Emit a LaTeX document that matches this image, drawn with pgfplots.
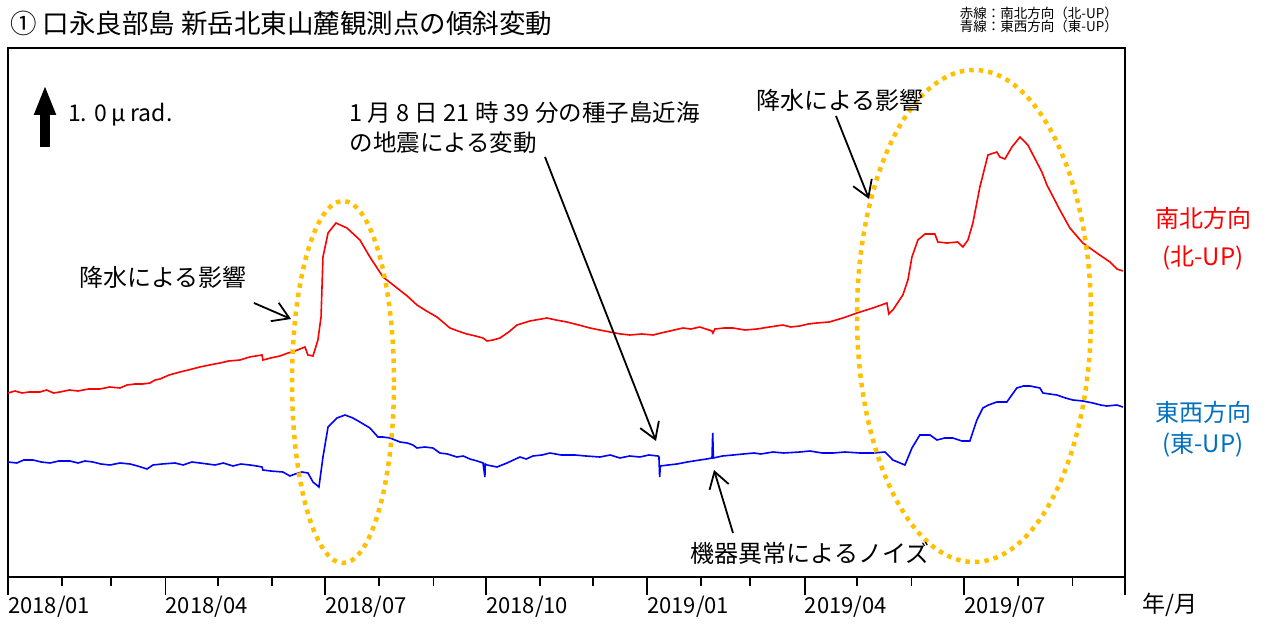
\documentclass[border=0pt]{standalone}
\usepackage{fontspec}
\setmainfont{Noto Sans CJK JP}
\usepackage{pgfplots}
\pgfplotsset{compat=1.18}
\usetikzlibrary{arrows.meta}
\definecolor{nsred}{RGB}{255,0,0}
\definecolor{ewblue}{RGB}{0,0,255}
\definecolor{lblblue}{RGB}{0,112,192}
\definecolor{rainorange}{RGB}{255,192,0}

\begin{document}
\begin{tikzpicture}[x=1pt,y=1pt]
\begin{axis}[
  at={(0,0)}, anchor=south west,
  scale only axis, width=1117pt, height=529pt,
  xmin=0, xmax=638, ymin=0, ymax=529,
  axis line style={line width=2.6pt},
  ytick=\empty,
  xtick={0,90,181,273,365,455,546,638},
  xticklabels={2018/01,2018/04,2018/07,2018/10,2019/01,2019/04,2019/07,},
  minor xtick={31,59,120,151,212,243,304,334,396,424,485,516,577,608},
  xtick pos=bottom, tick align=outside,
  major tick length=18pt, minor tick length=9pt,
  tick style={black, line width=1.8pt},
  xticklabel style={anchor=north west, inner sep=0pt, yshift=-1pt,
    font=\fontsize{22}{24}\selectfont},
]
% 南北方向 (north up), days since 2018-01-01
\addplot[nsred, line width=1.6pt] coordinates {
(0,184)(4,186)(8,184)(12,185)(18.3,185)(22,187)(26,184)(29.7,185)(35,187)(40,186)
(46,188)(52.5,188)(58,190)(64,189)(68,192)(72.5,193)(77,193)(81.1,194)(84,197)(86.8,198)
(92,202)(98.2,205)(103,207)(109.6,210)(115,212)(121.1,214)(126,216)(132.5,217)(138,220)
(145.1,222)(145.6,217)(150,219)(155.3,221)(160,224)(163.9,226)(169.6,230)(171.3,222)
(174.2,221)(177,237)(178.8,260)(179.9,320)(182.8,344)(187.3,354)(193.6,349)(201,337)
(206.7,320)(214.2,300)(222.2,289)(228,281)(233.6,272)(239,266)(245,260)(252.4,249)
(257,246)(262.1,243)(267,241)(271.3,239)(273.6,236)(277,237)(281,239)(286,245)(290.7,252)
(298.1,256)(307.8,259)(313,257)(319.2,255)(326,252)(332.4,249)(338,247)(343.8,245)
(350,243)(355.2,242)(362,243)(368.4,242)(373,244)(378.1,246)(385.5,249)(390,248)
(395.2,250)(402.1,246)(402.6,244)(403.8,248)(409,249)(414.1,249)(421,247)(427.8,248)
(435,250)(442.6,252)(447,250)(452.3,251)(457,253)(462,254)(469,255)(476.9,259)
(484.9,264)(494,269)(502,274)(503.1,263)(505.4,267)(511.1,282)(514,297)(516.3,320)
(519.7,337)(523.7,343)(529.4,343)(531.1,335)(536.3,334)(542.5,335)(545.4,330)(548.3,337)
(551.1,354)(555.1,390)(559.7,422)(564.8,425)(566.5,420)(569.4,418)(573.4,430)(578,440)
(582.5,432)(590.5,405)(593.4,392)(600.8,367)(606.5,349)(613.9,334)(621.9,324)(629.4,315)
(633.4,308)(636.8,306)
};
% 東西方向 (east up)
\addplot[ewblue, line width=1.6pt] coordinates {
(0,115)(5,114)(9,117)(14.3,117)(19,115)(24,114)(29,116)(35.4,116)(40,114)(44,116)
(48.5,115)(53,113)(58.3,112)(64,114)(69.7,113)(74,111)(79.4,108)(82.8,112)(88,113)
(95.4,114)(100,112)(105,115)(109.6,114)(114,113)(118.2,112)(123,114)(128.5,111)(133,113)
(138.2,112)(142,111)(145.1,110)(145.6,107)(150,106)(157,105)(161,101)(164,103)(167.9,105)
(171.3,104)(174.2,95)(177.6,90)(179.9,120)(182.8,150)(187.9,159)(192.5,162)(197,159)
(201,155)(206.7,149)(211.3,140)(214,140)(218.2,139)(223.9,135)(228,134)(231.3,132)
(233.6,129)(238,130)(242.7,129)(246.7,124)(251,123)(256.4,120)(260,121)(263.8,118)
(268,116)(271.3,114)(272.4,100)(272.5,113)(273.6,112)(279.3,110)(285,114)(292.4,120)
(296,118)(299.8,121)(305,122)(309.5,124)(316,122)(323.8,122)(330,121)(338.1,120)
(344,122)(349.5,119)(355,121)(360.9,120)(366,122)(371.2,121)(371.8,120)(372.2,100)
(372.6,111)(377,112)(382.1,113)(388,115)(395.2,117)(399,118)(402.1,119)(402.5,144)
(402.9,119)(408,121)(414.1,122)(420,123)(426,124)(430,123)(436.9,125)(443,124)
(452.3,125)(458,126)(465,124)(471.2,124)(478,125)(486.6,124)(494,124)(500.9,125)
(505.4,117)(512.3,112)(516.3,129)(520.8,142)(526.6,142)(530.6,137)(535,139)(539.7,139)
(544.8,136)(549.4,136)(553.4,157)(556.8,169)(560,172)(564.8,175)(570.5,175)(576.2,189)
(580,191)(583.7,191)(589.4,189)(591.1,184)(595,183)(599.1,182)(604,179)(608.2,177)
(614,176)(619.6,174)(624,172)(627.6,171)(633.4,172)(636.8,170)
};
\end{axis}

% rain ellipses
\draw[rainorange, line width=4.5pt, dash pattern=on 4.5pt off 5pt]
  (335,195) ellipse [x radius=51, y radius=181];
\draw[rainorange, line width=4.5pt, dash pattern=on 4.5pt off 5pt]
  (966,261) ellipse [x radius=117, y radius=246];

% scale bar
\draw[line width=10pt, -{Triangle[length=30pt,width=20pt]}] (37,430) -- (37,492);
\node[anchor=west, inner sep=0pt, font=\fontsize{23}{26}\selectfont] at (60,462)
  {1.\hspace{0.3em}0\hspace{0.2em}μ\hspace{0.2em}rad.};

% annotations
\tikzset{ann/.style={line width=1.8pt, -{Straight Barb[length=16pt,width=20pt]}}}
\node[font=\fontsize{24}{30}\selectfont] at (155,300) {降水による影響};
\draw[ann] (246,274) -- (283,258);
\node[font=\fontsize{24}{30}\selectfont] at (832,477) {降水による影響};
\draw[ann] (828,461) -- (861,378);
\node[anchor=west, align=left, font=\fontsize{23.5}{30}\selectfont] at (338,449)
  {1 月 8 日 21 時 39 分の種子島近海\\の地震による変動};
\draw[ann] (537,420) -- (648,136);
\node[font=\fontsize{24}{30}\selectfont] at (802,24) {機器異常によるノイズ};
\draw[ann] (725,44) -- (706,107);

% titles and side labels
\node[anchor=west, inner sep=0pt, font=\fontsize{26.5}{30}\selectfont] at (2,554)
  {① 口永良部島 新岳北東山麓観測点の傾斜変動};
\node[anchor=east, inner sep=0pt, align=right, font=\fontsize{13.5}{13.5}\selectfont] at (1110,557)
  {赤線：南北方向（北-UP）\\青線：東西方向（東-UP）};
\node[nsred, font=\fontsize{24}{30}\selectfont] at (1195,359) {南北方向};
\node[nsred, font=\fontsize{24}{30}\selectfont] at (1195,319) {(北-UP)};
\node[lblblue, font=\fontsize{24}{30}\selectfont] at (1195,165) {東西方向};
\node[lblblue, font=\fontsize{24}{30}\selectfont] at (1195,132) {(東-UP)};
\node[font=\fontsize{23}{28}\selectfont] at (1162,-28) {年/月};

\pgfresetboundingbox
\path (-8,-47) rectangle (1261,577);
\end{tikzpicture}
\end{document}
